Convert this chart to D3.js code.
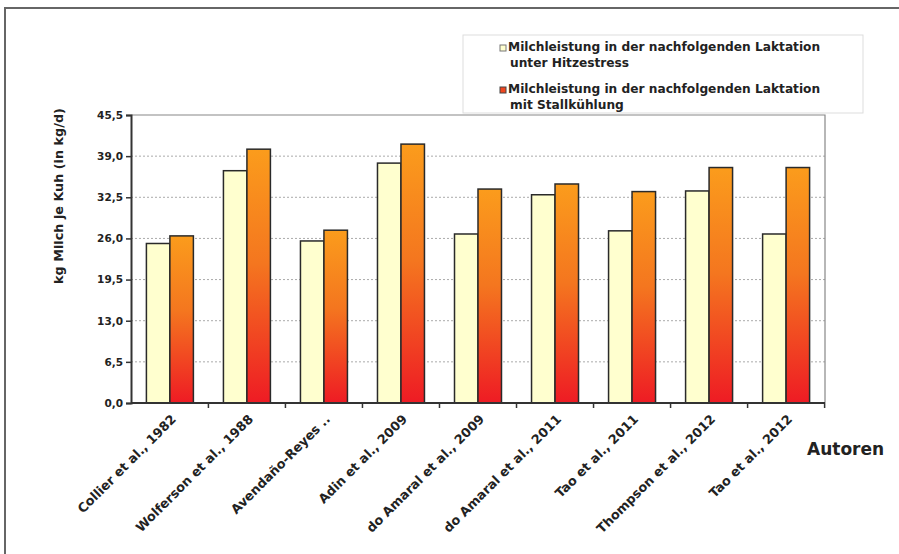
<!DOCTYPE html>
<html>
<head>
<meta charset="utf-8">
<script src="https://d3js.org/d3.v7.min.js"></script>
<style>
  body { margin: 0; background: #fff; }
  svg text { font-family: "DejaVu Sans", Verdana, sans-serif; font-weight: bold; fill: #222; }
</style>
</head>
<body>
<svg width="899" height="554"></svg>
<script>
var autoren = ["Collier et al., 1982", "Wolferson et al., 1988", "Avendaño-Reyes ..", "Adin et al., 2009",
    "do Amaral et al., 2009", "do Amaral et al., 2011", "Tao et al., 2011", "Thompson et al., 2012", "Tao et al., 2012"];
var serien = ["hitze", "kuehl"];
var hitzestress = [25.2, 36.7, 25.6, 37.9, 26.7, 32.9, 27.2, 33.5, 26.7];
var stallkuehlung = [26.4, 40.1, 27.3, 40.9, 33.8, 34.6, 33.4, 37.2, 37.2];
var yTicks = [0, 6.5, 13, 19.5, 26, 32.5, 39, 45.5];
var legendLines = [
    ["Milchleistung in der nachfolgenden Laktation", "unter Hitzestress"],
    ["Milchleistung in der nachfolgenden Laktation", "mit Stallkühlung"]
];

var svg = d3.select("svg"),
    plot = {left: 131, right: 825, top: 115, bottom: 403};

var data = autoren.map(function(a, i) {
    return {autor: a, hitze: hitzestress[i], kuehl: stallkuehlung[i]};
});

var x = d3.scaleBand().domain(autoren).range([plot.left, plot.right])
    .paddingInner(0.39).paddingOuter(0.2);
var x1 = d3.scaleBand().domain(serien).range([0, x.bandwidth()]);
var y = d3.scaleLinear().domain([0, 45.5]).range([plot.bottom, plot.top]);

var fmt = function(d) { return d3.format(".1f")(d).replace(".", ","); };

// gradient for the cooled bars
var grad = svg.append("defs").append("linearGradient")
    .attr("id", "orangeRot")
    .attr("x1", 0).attr("y1", 0).attr("x2", 0).attr("y2", 1);
grad.append("stop").attr("offset", "0%").attr("stop-color", "#fb9c1c");
grad.append("stop").attr("offset", "45%").attr("stop-color", "#f4761f");
grad.append("stop").attr("offset", "100%").attr("stop-color", "#ee1b24");

// outer frame (runs off the right and bottom edge)
svg.append("rect")
    .attr("x", 5).attr("y", 8)
    .attr("width", 910).attr("height", 560)
    .attr("fill", "#fff")
    .attr("stroke", "#666")
    .attr("stroke-width", 2);

// grid
svg.append("g")
    .selectAll("line")
    .data(yTicks.slice(1, -1))
    .enter().append("line")
    .attr("x1", plot.left).attr("x2", plot.right)
    .attr("y1", function(d) { return y(d); })
    .attr("y2", function(d) { return y(d); })
    .attr("stroke", "#aaa")
    .attr("stroke-dasharray", "2,2");

// plot border top + right
svg.append("path")
    .attr("d", "M" + plot.left + "," + y(45.5) + "H" + plot.right + "V" + plot.bottom)
    .attr("fill", "none")
    .attr("stroke", "#888")
    .attr("stroke-width", 1.2);

// bars
var groups = svg.append("g")
    .selectAll("g")
    .data(data)
    .enter().append("g")
    .attr("transform", function(d) { return "translate(" + x(d.autor) + ",0)"; });

groups.selectAll("rect")
    .data(function(d) { return serien.map(function(k) { return {key: k, value: d[k]}; }); })
    .enter().append("rect")
    .attr("x", function(d) { return x1(d.key); })
    .attr("y", function(d) { return y(d.value); })
    .attr("width", x1.bandwidth())
    .attr("height", function(d) { return y(0) - y(d.value); })
    .attr("fill", function(d) { return d.key === "hitze" ? "#ffffcf" : "url(#orangeRot)"; })
    .attr("stroke", "#2a2a2a")
    .attr("stroke-width", 1.5);

// y axis
var yAxis = d3.axisLeft(y).tickValues(yTicks).tickFormat(fmt).tickSizeOuter(0).tickSize(5).tickPadding(3);
var yAxisGroup = svg.append("g")
    .attr("transform", "translate(" + plot.left + ",0)")
    .call(yAxis);
yAxisGroup.select(".domain").attr("stroke", "#333").attr("stroke-width", 2);
yAxisGroup.selectAll(".tick line").attr("stroke", "#333").attr("stroke-width", 1.5);
yAxisGroup.selectAll(".tick text")
    .style("font-size", "10.5px")
    .style("font-family", "DejaVu Sans")
    .style("font-weight", "bold")
    .attr("fill", "#2b2b3b");

// x axis line with ticks between groups
var xAxisGroup = svg.append("g");
xAxisGroup.append("line")
    .attr("x1", plot.left).attr("x2", plot.right)
    .attr("y1", plot.bottom).attr("y2", plot.bottom)
    .attr("stroke", "#333").attr("stroke-width", 2);
xAxisGroup.selectAll(".xt")
    .data(autoren)
    .enter().append("line")
    .attr("class", "xt")
    .attr("x1", function(d) { return x(d) + x.bandwidth() / 2 + x.step() / 2; })
    .attr("x2", function(d) { return x(d) + x.bandwidth() / 2 + x.step() / 2; })
    .attr("y1", plot.bottom).attr("y2", plot.bottom + 5)
    .attr("stroke", "#333").attr("stroke-width", 1.5);

xAxisGroup.selectAll(".xl")
    .data(autoren)
    .enter().append("text")
    .attr("class", "xl")
    .attr("transform", function(d) {
        return "translate(" + (x(d) + x.bandwidth() / 2 + 7) + "," + (plot.bottom + 17) + ") rotate(-45)";
    })
    .attr("text-anchor", "end")
    .style("font-size", "12.8px")
    .text(function(d) { return d; });

// axis titles
svg.append("text")
    .attr("transform", "translate(63,196) rotate(-90)")
    .attr("text-anchor", "middle")
    .style("font-size", "12.8px")
    .text("kg Milch je Kuh (in kg/d)");

svg.append("text")
    .attr("x", 807).attr("y", 455)
    .style("font-size", "17px")
    .text("Autoren");

// legend
var legend = svg.append("g");
legend.append("rect")
    .attr("x", 463).attr("y", 35)
    .attr("width", 400).attr("height", 78)
    .attr("fill", "#fff")
    .attr("stroke", "#ddd");

var entries = legend.selectAll(".entry")
    .data(legendLines)
    .enter().append("g")
    .attr("class", "entry")
    .attr("transform", function(d, i) { return "translate(0," + (i * 42) + ")"; });

entries.append("rect")
    .attr("x", 500).attr("y", 45)
    .attr("width", 6).attr("height", 6)
    .attr("fill", function(d, i) { return i === 0 ? "#ffffcf" : "#f0461f"; })
    .attr("stroke", function(d, i) { return i === 0 ? "#777" : "#444"; });

entries.selectAll("text")
    .data(function(d) { return d; })
    .enter().append("text")
    .attr("x", function(d, j) { return j === 0 ? 508 : 510; })
    .attr("y", function(d, j) { return 51 + j * 16; })
    .style("font-size", "12.2px")
    .text(function(d) { return d; });
</script>
</body>
</html>
